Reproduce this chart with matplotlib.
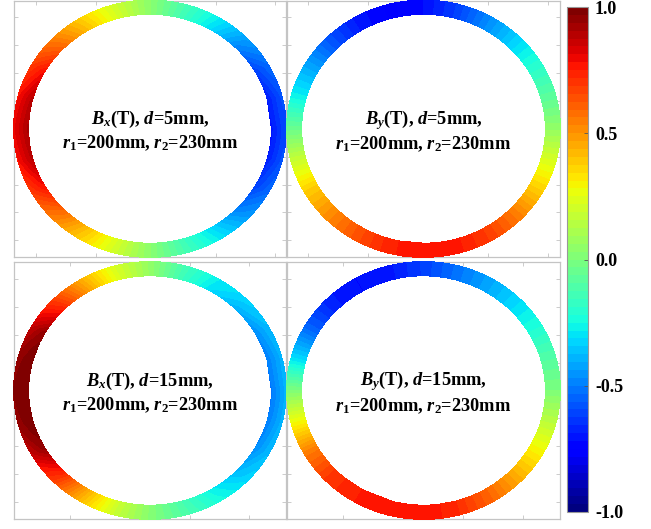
import numpy as np
import matplotlib
matplotlib.use('Agg')
import matplotlib.pyplot as plt
from matplotlib.colors import Normalize
from matplotlib.cm import ScalarMappable

plt.rcParams['font.family'] = ['Liberation Serif', 'DejaVu Serif']
plt.rcParams['font.weight'] = 'bold'
plt.rcParams['mathtext.fontset'] = 'custom'
plt.rcParams['mathtext.rm'] = 'Liberation Serif:bold'
plt.rcParams['mathtext.it'] = 'Liberation Serif:italic:bold'
plt.rcParams['mathtext.bf'] = 'Liberation Serif:bold'

# ---------------- data ----------------
angles_deg = list(range(0, 360, 15))

bx5_inner = [-0.70, -0.69, -0.62, -0.49, -0.32, -0.15, 0.03, 0.21, 0.40, 0.59, 0.77, 0.88,
             0.91, 0.88, 0.77, 0.59, 0.40, 0.21, 0.03, -0.15, -0.32, -0.49, -0.62, -0.69]
bx5_outer = [-0.60, -0.59, -0.54, -0.43, -0.28, -0.13, 0.03, 0.19, 0.36, 0.53, 0.68, 0.77,
             0.80, 0.77, 0.68, 0.53, 0.36, 0.19, 0.03, -0.13, -0.28, -0.43, -0.54, -0.59]

by5_inner = [0.05, -0.08, -0.20, -0.33, -0.47, -0.62, -0.72, -0.76, -0.70, -0.58, -0.42, -0.27,
             -0.05, 0.18, 0.38, 0.52, 0.64, 0.74, 0.78, 0.76, 0.68, 0.55, 0.38, 0.22]
by5_outer = [0.05, -0.08, -0.20, -0.33, -0.47, -0.62, -0.72, -0.76, -0.70, -0.58, -0.42, -0.27,
             -0.05, 0.18, 0.38, 0.52, 0.64, 0.74, 0.78, 0.76, 0.68, 0.55, 0.38, 0.22]

bx15_inner = [-0.51, -0.50, -0.47, -0.40, -0.32, -0.16, 0.05, 0.23, 0.47, 0.73, 0.95, 1.00,
              1.00, 1.00, 0.95, 0.73, 0.44, 0.19, 0.02, -0.13, -0.27, -0.38, -0.47, -0.50]
bx15_outer = [-0.40, -0.40, -0.38, -0.33, -0.28, -0.14, 0.05, 0.21, 0.43, 0.67, 0.86, 0.95,
              0.97, 0.95, 0.86, 0.67, 0.40, 0.17, 0.02, -0.11, -0.23, -0.32, -0.38, -0.40]

by15_inner = [0.00, -0.10, -0.22, -0.32, -0.42, -0.52, -0.62, -0.70, -0.72, -0.68, -0.55, -0.32,
              0.00, 0.28, 0.55, 0.70, 0.75, 0.78, 0.78, 0.72, 0.60, 0.45, 0.30, 0.15]
by15_outer = [0.00, -0.10, -0.22, -0.32, -0.42, -0.52, -0.62, -0.70, -0.72, -0.68, -0.55, -0.32,
              0.00, 0.28, 0.55, 0.70, 0.75, 0.78, 0.78, 0.72, 0.60, 0.45, 0.30, 0.15]

labels = [r'$B_x$(T), $d$=5mm,' + '\n' + r'$r_1$=200mm, $r_2$=230mm',
          r'$B_y$(T), $d$=5mm,' + '\n' + r'$r_1$=200mm, $r_2$=230mm',
          r'$B_x$(T), $d$=15mm,' + '\n' + r'$r_1$=200mm, $r_2$=230mm',
          r'$B_y$(T), $d$=15mm,' + '\n' + r'$r_1$=200mm, $r_2$=230mm']

cbar_ticks = [-1.0, -0.5, 0.0, 0.5, 1.0]
cbar_ticklabels = ['-1.0', '-0.5', '0.0', '0.5', '1.0']

r_inner_draw = 206
r_outer_draw = 230

# ---------------- layout ----------------
W, H = 651, 529
fig = plt.figure(figsize=(W / 100, H / 100), dpi=100)

def rect(x0, y0, x1, y1):
    return [x0 / W, 1 - y1 / H, (x1 - x0) / W, (y1 - y0) / H]

panel_rects = [rect(14, 0.5, 286, 257), rect(287, 0.5, 560, 257),
               rect(14, 262, 286, 519), rect(287, 262, 560, 519)]
xtick_starts = [-192, -195, -135, -136]
panel_data = [(bx5_inner, bx5_outer), (by5_inner, by5_outer),
              (bx15_inner, bx15_outer), (by15_inner, by15_outer)]

cmap = plt.get_cmap('jet', 64)
levels = np.linspace(-1, 1, 65)
gray = '#c4c4c4'

for i in range(4):
    r = panel_rects[i]
    axc = fig.add_axes(r)
    axc.set_xlim(-230, 230)
    axc.set_ylim(-230, 230)
    axc.set_xticks(np.arange(xtick_starts[i], 231, 101))
    axc.set_yticks(np.arange(-200, 201, 50))
    axc.tick_params(direction='in', length=3, width=0.6, color=gray,
                    top=True, right=True, labelbottom=False, labelleft=False)
    for s in axc.spines.values():
        s.set_color(gray)
        s.set_linewidth(0.9)
    axc.text(0, -4, labels[i], ha='center', va='center', fontsize=13.2,
             fontweight='bold', multialignment='center', linespacing=1.2,
             zorder=10)

    axp = fig.add_axes(r, projection='polar')
    axp.set_aspect('auto')
    axp.set_zorder(5)
    inner, outer = panel_data[i]
    th = np.deg2rad(np.array(angles_deg + [360]))
    rr = np.array([r_inner_draw, r_outer_draw])
    Z = np.array([inner + [inner[0]], outer + [outer[0]]])
    T, R = np.meshgrid(th, rr)
    cs = axp.contourf(T, R, np.clip(Z, -1, 1), levels=levels, cmap=cmap)
    cs.set_clip_on(False)
    cs.set_edgecolor('face')
    cs.set_linewidth(0.6)
    for p in cs.get_paths():
        p._interpolation_steps = 16
    axp.set_ylim(0, 230)
    axp.axis('off')

cax = fig.add_axes(rect(567, 7, 588, 512))
sm = ScalarMappable(norm=Normalize(-1, 1), cmap=cmap)
cb = fig.colorbar(sm, cax=cax, ticks=cbar_ticks)
cb.ax.set_yticklabels(cbar_ticklabels, fontsize=13, fontweight='bold')
cb.ax.tick_params(direction='in', length=3, width=0.6, color='#555555', pad=5)
cb.outline.set_edgecolor('#999999')
cb.outline.set_linewidth(0.8)

fig.savefig('out.png', dpi=100)
